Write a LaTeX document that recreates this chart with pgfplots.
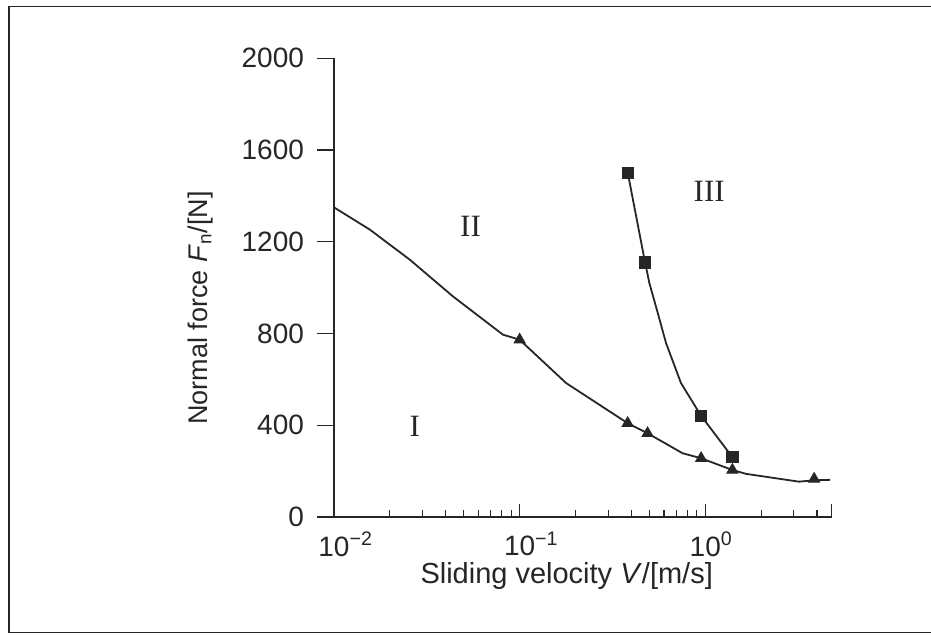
\documentclass[border=0pt]{standalone}
\usepackage{pgfplots}
\pgfplotsset{compat=1.18}
\usepackage{fontspec}
\setmainfont{Liberation Sans}
\newfontfamily\romanfont{Liberation Serif}
\definecolor{ink}{gray}{0.15}

\begin{document}
\begin{tikzpicture}[x=1pt,y=1pt]
\useasboundingbox (0,0) rectangle (465.5,317.5);
\fill[white] (0,0) rectangle (465.5,317.5);
\draw[line width=0.9pt, ink] (470,314.2) -- (4.5,314.2) -- (4.5,1.2) -- (470,1.2);

% x axis, curves
\begin{axis}[
  at={(167pt,59pt)}, anchor=south west,
  scale only axis, width=248.85pt, height=229.35pt,
  xmode=log, xmin=0.01, xmax=4.8, ymin=0, ymax=2000,
  axis x line*=bottom, axis y line=none,
  axis line style={-, line width=0.6pt, ink},
  tick align=inside, major tick length=6.5pt, minor tick length=3.5pt,
  tick style={line width=0.6pt, ink},
  xtick={0.01,0.1,1},
  minor xtick={0.02,0.03,0.04,0.05,0.06,0.07,0.08,0.09,0.2,0.3,0.4,0.5,0.6,0.7,0.8,0.9,2,3,4},
  xticklabels={10\rlap{\textsuperscript{−2}},10\rlap{\textsuperscript{−1}},10\rlap{\textsuperscript{0}}},
  xticklabel style={font=\fontsize{14}{16}\selectfont, text=ink, anchor=north, yshift=-4pt},
  extra x ticks={4.8}, extra x tick labels={},
  xlabel={Sliding velocity \textit{V}/[m/s]},
  xlabel style={at={(axis description cs:0.4675,-0.128)}, anchor=center, font=\fontsize{14.5}{16}\selectfont, text=ink},
  clip=false,
]
\addplot[ink, line width=0.9pt] coordinates {
  (0.01,1350) (0.0156,1253) (0.0256,1122) (0.0437,962) (0.0813,795) (0.1,773)
  (0.178,584) (0.382,409) (0.489,365) (0.755,278) (0.95,256) (1.40,205)
  (1.66,188) (3.2,154) (3.86,160) (4.7,162)};
\addplot[only marks, mark=triangle*, mark size=3.2pt, ink] coordinates {
  (0.1,773) (0.382,409) (0.489,365) (0.95,256) (1.40,205) (3.86,166)};
\addplot[ink, line width=0.9pt] coordinates {
  (0.382,1503) (0.474,1110) (0.5,1020) (0.555,889) (0.615,758) (0.74,584) (0.95,441) (1.40,261)};
\addplot[only marks, mark=square*, mark size=2.8pt, ink] coordinates {
  (0.382,1500) (0.474,1110) (0.95,441) (1.40,261)};
\node[font=\romanfont\fontsize{15.5}{18}\selectfont, text=ink] at (axis cs:0.02725,394) {I};
\node[font=\romanfont\fontsize{15.5}{18}\selectfont, text=ink] at (axis cs:0.0544,1268) {II};
\node[font=\romanfont\fontsize{15.5}{18}\selectfont, text=ink] at (axis cs:1.05,1420) {III};
\end{axis}

% y axis
\begin{axis}[
  at={(167pt,59pt)}, anchor=south west,
  scale only axis, width=248.85pt, height=229.35pt,
  xmode=log, xmin=0.01, xmax=4.8, ymin=0, ymax=2000,
  axis y line*=left, axis x line=none,
  axis line style={-, line width=0.6pt, ink},
  tick align=outside, major tick length=8.5pt,
  tick style={line width=0.6pt, ink},
  ytick={0,400,800,1200,1600,2000},
  yticklabels={0,400,800,1200,1600,2000},
  yticklabel style={font=\fontsize{14}{16}\selectfont, text=ink, anchor=east, xshift=-3pt},
  ylabel={Normal force \textit{F}\textsubscript{n}/[N]},
  ylabel style={at={(axis description cs:-0.269,0.4556)}, anchor=center, rotate=0, font=\fontsize{13.5}{15}\selectfont, text=ink},
  clip=false,
]
\end{axis}
\end{tikzpicture}
\end{document}
